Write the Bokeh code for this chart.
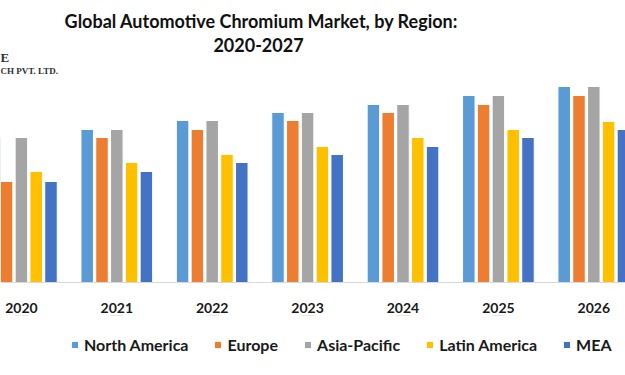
from bokeh.plotting import figure
from bokeh.layouts import column
from bokeh.models import (ColumnDataSource, Range1d, LinearAxis, FixedTicker,
                          Legend, LegendItem, Label)
from bokeh.transform import dodge
from bokeh.embed import file_html
from bokeh.resources import INLINE

# ---- data (arbitrary units) ----
years = ["2020", "2021", "2022", "2023", "2024", "2025", "2026"]
north_america = [14.5, 15.3, 16.2, 17.0, 17.8, 18.7, 19.6]
europe        = [10.1, 14.5, 15.3, 16.2, 17.0, 17.8, 18.7]
asia_pacific  = [14.5, 15.3, 16.2, 17.0, 17.8, 18.7, 19.6]
latin_america = [11.1, 12.0, 12.8, 13.6, 14.5, 15.3, 16.1]
mea           = [10.1, 11.1, 12.0, 12.8, 13.6, 14.5, 15.3]

series_names = ["North America", "Europe", "Asia-Pacific", "Latin America", "MEA"]
series_values = [north_america, europe, asia_pacific, latin_america, mea]
colors = ["#5B9BD5", "#ED7D31", "#A5A5A5", "#FFC000", "#4472C4"]

title_line1 = "Global Automotive Chromium Market, by Region:"
title_line2 = "2020-2027"

src = ColumnDataSource(dict(
    x=list(range(len(years))),
    **{name: vals for name, vals in zip(series_names, series_values)}
))

p = figure(frame_width=625, frame_height=282,
           x_range=Range1d(-0.2191, 6.3323), y_range=Range1d(0, 28.2),
           x_axis_type=None, y_axis_type=None,
           output_backend="svg", toolbar_location=None,
           min_border_left=0, min_border_right=0, min_border_top=0,
           min_border_bottom=0, outline_line_color=None)
p.background_fill_color = "white"
p.border_fill_color = "white"

step = 0.1551
width = 0.131
for k, (name, col) in enumerate(zip(series_names, colors)):
    p.vbar(x=dodge("x", (k - 2) * step, range=p.x_range), top=name,
           width=width, source=src, fill_color=col,
           line_color="white", line_width=1)

xaxis = LinearAxis(ticker=FixedTicker(ticks=list(range(len(years)))),
                   major_label_overrides={i: y for i, y in enumerate(years)})
xaxis.axis_line_color = "#D9D9D9"
xaxis.axis_line_width = 1
xaxis.major_tick_in = 0
xaxis.major_tick_out = 0
xaxis.minor_tick_in = 0
xaxis.minor_tick_out = 0
xaxis.major_label_standoff = 20
xaxis.major_label_text_font = "Lato"
xaxis.major_label_text_font_style = "bold"
xaxis.major_label_text_font_size = "14px"
xaxis.major_label_text_color = "#1a1a1a"
p.add_layout(xaxis, "below")

t1 = Label(x=261, y=262, x_units="screen", y_units="screen", text=title_line1,
           text_align="center", text_baseline="alphabetic",
           text_font="Lato", text_font_style="bold", text_font_size="18px",
           text_color="#111111")
t2 = Label(x=258, y=238, x_units="screen", y_units="screen", text=title_line2,
           text_align="center", text_baseline="alphabetic",
           text_font="Lato", text_font_style="bold", text_font_size="18px",
           text_color="#111111")
p.add_layout(t1)
p.add_layout(t2)

logo1 = Label(x=0, y=225, x_units="screen", y_units="screen", text="E",
              text_baseline="alphabetic", text_font="Liberation Serif",
              text_font_style="bold", text_font_size="13px", text_color="#333333")
logo2 = Label(x=0, y=212, x_units="screen", y_units="screen", text="CH PVT. LTD.",
              text_baseline="alphabetic", text_font="Liberation Serif",
              text_font_style="bold", text_font_size="9px", text_color="#333333")
p.add_layout(logo1)
p.add_layout(logo2)

# ---- legend strip below the chart (its bars lie outside its own view) ----
p2 = figure(frame_width=625, frame_height=50,
            x_range=Range1d(-0.2191, 6.3323), y_range=Range1d(-2, -1),
            x_axis_type=None, y_axis_type=None,
            output_backend="svg", toolbar_location=None,
            min_border_left=0, min_border_right=0, min_border_top=0,
            min_border_bottom=0, outline_line_color=None)
p2.background_fill_color = "white"
p2.border_fill_color = "white"
items = []
for name, col in zip(series_names, colors):
    r = p2.vbar(x="x", top=name, width=width, source=src, fill_color=col,
                line_color="white", line_width=1)
    items.append(LegendItem(label=name, renderers=[r]))

legend = Legend(items=items, orientation="horizontal", location=(70, 11))
legend.glyph_width = 9
legend.glyph_height = 9
legend.label_standoff = 5
legend.spacing = 25
legend.padding = 0
legend.margin = 0
legend.border_line_color = None
legend.background_fill_alpha = 0
legend.label_text_font = "Lato"
legend.label_text_font_style = "bold"
legend.label_text_font_size = "16px"
legend.label_text_color = "#1a1a1a"
p2.add_layout(legend)

layout = column(p, p2, spacing=0)
open("out.html", "w").write(file_html(layout, INLINE))
